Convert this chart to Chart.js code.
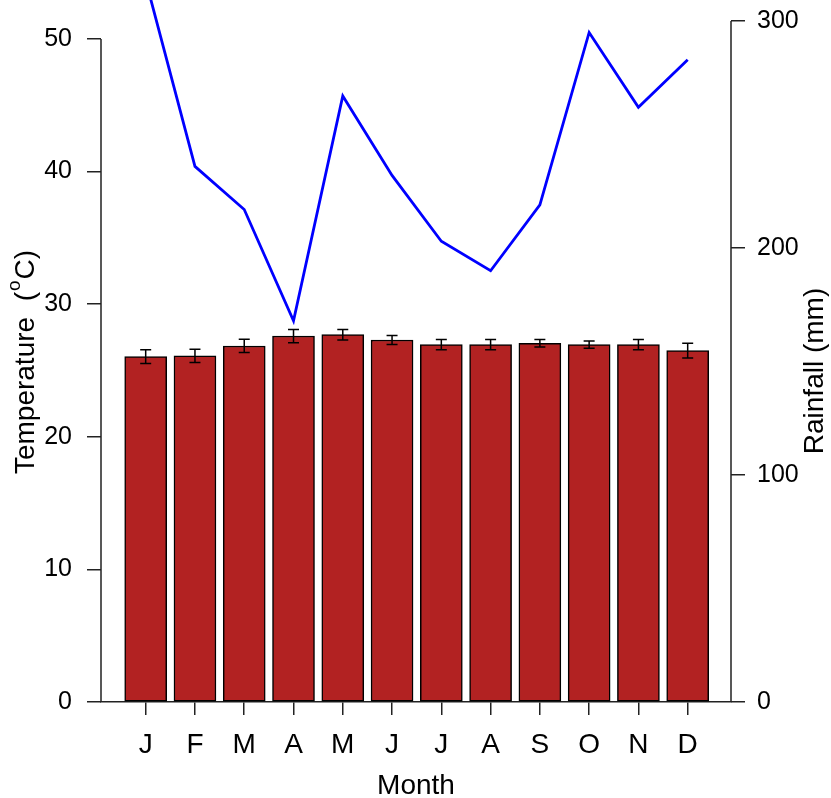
<!DOCTYPE html>
<html>
<head>
<meta charset="utf-8">
<script src="https://cdn.jsdelivr.net/npm/chart.js@4"></script>
<style>
  html, body { margin: 0; padding: 0; background: #fff; }
  #wrap { width: 831px; height: 798px; }
</style>
</head>
<body>
<div id="wrap"><canvas id="climateChart"></canvas></div>
<script>
// monthly data
const months = ['J', 'F', 'M', 'A', 'M', 'J', 'J', 'A', 'S', 'O', 'N', 'D'];
const tempMean = [26.05, 26.1, 26.85, 27.6, 27.7, 27.3, 26.95, 26.95, 27.05, 26.95, 26.95, 26.5];
const tempErr = [0.52, 0.5, 0.5, 0.5, 0.4, 0.34, 0.39, 0.39, 0.28, 0.28, 0.39, 0.55];
const rainfall = [318, 236, 217, 168, 267, 232, 203, 190, 219, 295, 262, 283];
const tempTicks = [0, 10, 20, 30, 40, 50];
const rainTicks = [0, 100, 200, 300];

const FONT = "'Liberation Sans', Arial, sans-serif";
const AXIS = '#222';

// error bars, axis lines that stop at the last tick, rotated y titles
const extras = {
    id: 'extras',
    afterDatasetsDraw(chart) {
        const {ctx, scales: {x, y}} = chart;
        ctx.save();
        ctx.strokeStyle = '#000';
        ctx.lineWidth = 1.5;
        tempMean.forEach((m, i) => {
            const px = x.getPixelForValue(i + 1);
            const top = y.getPixelForValue(m + tempErr[i]);
            const bot = y.getPixelForValue(m - tempErr[i]);
            ctx.beginPath();
            ctx.moveTo(px, top); ctx.lineTo(px, bot);
            ctx.moveTo(px - 5.5, top); ctx.lineTo(px + 5.5, top);
            ctx.moveTo(px - 5.5, bot); ctx.lineTo(px + 5.5, bot);
            ctx.stroke();
        });
        ctx.restore();
    },
    afterDraw(chart) {
        const {ctx, chartArea, scales: {y, y2}} = chart;
        ctx.save();
        ctx.strokeStyle = AXIS;
        ctx.lineWidth = 1.5;
        ctx.beginPath();
        ctx.moveTo(chartArea.left, y.getPixelForValue(0));
        ctx.lineTo(chartArea.left, y.getPixelForValue(tempTicks[tempTicks.length - 1]));
        ctx.moveTo(chartArea.right, y2.getPixelForValue(0));
        ctx.lineTo(chartArea.right, y2.getPixelForValue(rainTicks[rainTicks.length - 1]));
        ctx.stroke();

        ctx.fillStyle = '#000';
        ctx.textBaseline = 'alphabetic';

        // left title: Temperature (°C) with a raised small o
        const big = '28px ' + FONT, small = '19px ' + FONT;
        const partA = 'Temperature  (', partB = 'o', partC = 'C)';
        ctx.font = big;
        const wA = ctx.measureText(partA).width, wC = ctx.measureText(partC).width;
        ctx.font = small;
        const wB = ctx.measureText(partB).width + 2;
        const total = wA + wB + wC;
        ctx.save();
        ctx.translate(34, 362);
        ctx.rotate(-Math.PI / 2);
        ctx.textAlign = 'left';
        let cx = -total / 2;
        ctx.font = big; ctx.fillText(partA, cx, 0); cx += wA;
        ctx.font = small; ctx.fillText(partB, cx + 1, -14); cx += wB;
        ctx.font = big; ctx.fillText(partC, cx, 0);
        ctx.restore();

        // right title
        ctx.save();
        ctx.translate(823, 371);
        ctx.rotate(-Math.PI / 2);
        ctx.textAlign = 'center';
        ctx.font = big;
        ctx.fillText('Rainfall (mm)', 0, 0);
        ctx.restore();
        ctx.restore();
    }
};

// fixed axis sizes so the plot area sits where the original one does
function fixBox(size) {
    return s => {
        if (s.isHorizontal()) s.height = size; else s.width = size;
        s.paddingTop = 0; s.paddingBottom = 0;
        s.paddingLeft = 0; s.paddingRight = 0;
    };
}

const ctx = document.getElementById('climateChart');

new Chart(ctx, {
    type: 'bar',
    data: {
        datasets: [{
            type: 'line',
            label: 'Rainfall',
            data: rainfall.map((v, i) => ({x: i + 1, y: v})),
            yAxisID: 'y2',
            borderColor: '#0000FF',
            borderWidth: 2.8,
            pointRadius: 0,
            tension: 0,
            order: 0
        }, {
            label: 'Temperature',
            data: tempMean.map((v, i) => ({x: i + 1, y: v})),
            yAxisID: 'y',
            backgroundColor: '#B22222',
            borderColor: '#000',
            borderWidth: 1.5,
            borderSkipped: false,
            barThickness: 42,
            order: 1
        }]
    },
    options: {
        responsive: true,
        maintainAspectRatio: false,
        animation: false,
        layout: { padding: 0 },
        plugins: {
            legend: { display: false },
            tooltip: { enabled: false }
        },
        scales: {
            x: {
                type: 'linear',
                position: 'bottom',
                min: 0.093,
                max: 12.879,
                offset: false,
                afterBuildTicks: s => { s.ticks = months.map((m, i) => ({value: i + 1})); },
                afterFit: fixBox(96),
                ticks: {
                    autoSkip: false,
                    maxRotation: 0,
                    padding: 13,
                    color: '#000',
                    font: { family: FONT, size: 28 },
                    callback: v => months[v - 1]
                },
                grid: { offset: false, drawOnChartArea: false, drawTicks: true, tickLength: 13, color: AXIS, lineWidth: 1.5 },
                border: { display: true, color: AXIS, width: 1.5 },
                title: {
                    display: true,
                    text: 'Month',
                    color: '#000',
                    font: { family: FONT, size: 28, lineHeight: 1 },
                    padding: { top: 0, bottom: -2.3 }
                }
            },
            y: {
                position: 'left',
                min: 0,
                max: 52.94,
                afterBuildTicks: s => { s.ticks = tempTicks.map(v => ({value: v})); },
                afterFit: fixBox(101),
                ticks: { padding: 15, color: '#000', font: { family: FONT, size: 25 } },
                grid: { drawOnChartArea: false, drawTicks: true, tickLength: 14, color: AXIS, lineWidth: 1.5 },
                border: { display: false }
            },
            y2: {
                position: 'right',
                min: 0,
                max: 309.3,
                afterBuildTicks: s => { s.ticks = rainTicks.map(v => ({value: v})); },
                afterFit: fixBox(100),
                ticks: { padding: 12, color: '#000', font: { family: FONT, size: 25 } },
                grid: { drawOnChartArea: false, drawTicks: true, tickLength: 14, color: AXIS, lineWidth: 1.5 },
                border: { display: false }
            }
        }
    },
    plugins: [extras]
});
</script>
</body>
</html>
